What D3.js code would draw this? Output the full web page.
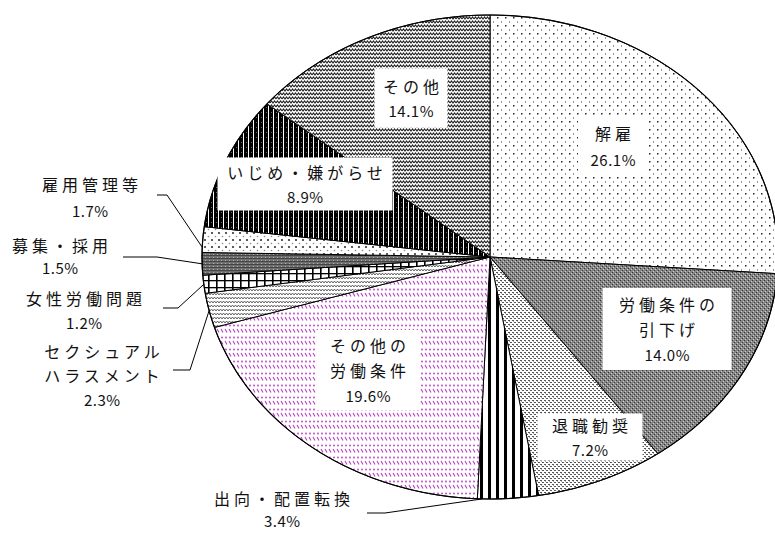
<!DOCTYPE html>
<html>
<head>
<meta charset="utf-8">
<script src="https://cdn.jsdelivr.net/npm/d3@7"></script>
<style>
  body { margin: 0; background: #fff; }
  text { font-family: "Noto Sans CJK JP", sans-serif; fill: #111; }
</style>
</head>
<body>
<svg id="chart" width="775" height="533"></svg>
<script>
// slices, clockwise from 12 o'clock
const categories = ["解雇", "労働条件の引下げ", "退職勧奨", "出向・配置転換", "その他の労働条件",
  "セクシュアルハラスメント", "女性労働問題", "募集・採用", "雇用管理等", "いじめ・嫌がらせ", "その他"];
const values = [26.1, 14.0, 7.2, 3.4, 19.6, 2.3, 1.2, 1.5, 1.7, 8.9, 14.1];
const labelLines = [["解雇"], ["労働条件の", "引下げ"], ["退職勧奨"], ["出向・配置転換"], ["その他の", "労働条件"],
  ["セクシュアル", "ハラスメント"], ["女性労働問題"], ["募集・採用"], ["雇用管理等"], ["いじめ・嫌がらせ"], ["その他"]];

const W = 775, H = 533;
const cx = 490, cy = 257, rx = 288, ry = 242;

// label layout: boxed labels sit inside the slice, the rest outside with a leader line
const layout = [
  { x: 613, y: 146, box: [70, 58], gap: 27 },
  { x: 667, y: 329, box: [129, 82], gap: 25 },
  { x: 590, y: 437, box: [105, 47], gap: 25 },
  { x: 282, y: 509, gap: 23, leader: [[367, 513], [385, 513]], t: 0.92 },
  { x: 368, y: 370, box: [103, 80], gap: 25 },
  { x: 102, y: 375, gap: 24, leader: [[173, 370], [190, 370]], t: 0.5 },
  { x: 84, y: 310, gap: 24, leader: [[163, 308], [178, 308]], t: 0.5 },
  { x: 60, y: 256, gap: 23, leader: [[123, 257], [157, 257]], t: 0.5 },
  { x: 90, y: 197, gap: 26, leader: [[157, 195], [167, 195]], t: 0.2 },
  { x: 305, y: 184, box: [175, 53], gap: 24 },
  { x: 411, y: 98, box: [73, 59], gap: 24 }
];

const svg = d3.select("#chart");
svg.append("rect").attr("width", W).attr("height", H).attr("fill", "#fff");

const defs = svg.append("defs");
function pat(id, w, h, bg, draw) {
  const p = defs.append("pattern").attr("id", id)
    .attr("patternUnits", "userSpaceOnUse").attr("width", w).attr("height", h);
  p.append("rect").attr("width", w).attr("height", h).attr("fill", bg);
  draw(p);
}
function px(p, x, y, w, h, c) { p.append("rect").attr("x", x).attr("y", y).attr("width", w).attr("height", h).attr("fill", c); }

pat("p0", 8, 8, "#fff", p => { px(p, 1, 1, 1.5, 1.5, "#222"); px(p, 5, 5, 1, 2, "#999"); });
pat("p1", 4, 4, "#868686", p => { px(p, 0, 0, 1, 1, "#333"); px(p, 2, 2, 1, 1, "#333"); px(p, 1, 3, 1, 1, "#ccc"); px(p, 3, 1, 1, 1, "#ccc"); });
pat("p2", 4, 4, "#fff", p => { px(p, 0, 0, 2, 1, "#555"); px(p, 2, 2, 2, 1, "#555"); px(p, 1, 1, 1, 1, "#aaa"); });
pat("p3", 8, 8, "#fff", p => { px(p, 0, 0, 3, 8, "#000"); });
pat("p4", 8, 12, "#fff", p => {
  p.append("circle").attr("cx", 2).attr("cy", 1.5).attr("r", 0.9).attr("fill", "#b83cc4");
  p.append("circle").attr("cx", 6).attr("cy", 1.5).attr("r", 0.9).attr("fill", "#b83cc4");
  p.append("path").attr("d", "M1,5L3,8.5M5,5L7,8.5").attr("stroke", "#b83cc4").attr("stroke-width", 1.1);
});
pat("p5", 6, 4, "#fff", p => {
  p.append("path").attr("d", "M0,3L1.5,1L3,3L4.5,1L6,3").attr("fill", "none").attr("stroke", "#555").attr("stroke-width", 0.9);
});
pat("p6", 8, 7, "#fff", p => { px(p, 0, 0, 1.6, 7, "#000"); px(p, 0, 0, 8, 1.3, "#000"); });
pat("p7", 4, 3, "#707070", p => { px(p, 0, 0, 4, 1, "#444"); px(p, 1, 2, 1, 1, "#b0b0b0"); });
pat("p8", 7, 7, "#fff", p => {
  p.append("circle").attr("cx", 2).attr("cy", 2).attr("r", 1.1).attr("fill", "#333");
  p.append("circle").attr("cx", 5.5).attr("cy", 5.5).attr("r", 0.8).attr("fill", "#888");
});
pat("p9", 5, 5, "#000", p => { px(p, 3, 0, 1, 5, "#fff"); px(p, 1, 2, 1, 1, "#666"); });
pat("p10", 6, 4, "#fff", p => {
  p.append("path").attr("d", "M0,3L1.5,1L3,3L4.5,1L6,3").attr("fill", "none").attr("stroke", "#222").attr("stroke-width", 1.1);
});

const pie = d3.pie().sort(null).value(d => d);
const arcs = pie(values);

function ellipsePt(a, k) {
  return [cx + rx * k * Math.sin(a), cy - ry * k * Math.cos(a)];
}
function slicePath(d) {
  const n = Math.max(2, Math.ceil((d.endAngle - d.startAngle) / 0.01));
  const pts = [[cx, cy]];
  for (let i = 0; i <= n; i++) {
    pts.push(ellipsePt(d.startAngle + (d.endAngle - d.startAngle) * i / n, 1));
  }
  return d3.line()(pts) + "Z";
}

svg.append("g").selectAll("path")
  .data(arcs)
  .join("path")
  .attr("d", slicePath)
  .attr("fill", (d, i) => "url(#p" + i + ")")
  .attr("stroke", "#000")
  .attr("stroke-width", 1)
  .attr("stroke-linejoin", "round");

svg.append("ellipse")
  .attr("cx", cx).attr("cy", cy).attr("rx", rx).attr("ry", ry)
  .attr("fill", "none").attr("stroke", "#000").attr("stroke-width", 1.2);

const fmt = d3.format(".1f");
const labels = svg.append("g");

arcs.forEach((d, i) => {
  const L = layout[i];
  const lines = labelLines[i].concat([fmt(values[i]) + "%"]);
  if (L.box) {
    labels.append("rect")
      .attr("x", L.x - L.box[0] / 2).attr("y", L.y - L.box[1] / 2)
      .attr("width", L.box[0]).attr("height", L.box[1])
      .attr("fill", "#fff");
  }
  if (L.leader) {
    const a = d.startAngle + (d.endAngle - d.startAngle) * L.t;
    const pts = L.leader.concat([ellipsePt(a, 1)]);
    labels.append("path")
      .attr("d", d3.line()(pts))
      .attr("fill", "none").attr("stroke", "#000").attr("stroke-width", 1);
  }
  const top = L.y - (lines.length - 1) * L.gap / 2;
  lines.forEach((s, j) => {
    const isPct = j === lines.length - 1;
    const ls = isPct ? 0.5 : 4;
    labels.append("text")
      .attr("x", L.x + ls / 2).attr("y", top + j * L.gap)
      .attr("text-anchor", "middle")
      .attr("dominant-baseline", "central")
      .attr("font-size", isPct ? 15 : 16)
      .attr("letter-spacing", ls)
      .text(s);
  });
});
</script>
</body>
</html>
